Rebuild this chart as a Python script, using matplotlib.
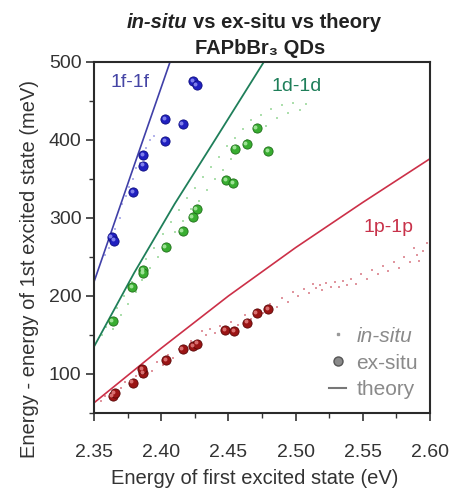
import matplotlib
matplotlib.use("Agg")
import matplotlib.pyplot as plt
from matplotlib.lines import Line2D
from matplotlib.transforms import offset_copy

plt.rcParams['font.family'] = ['Liberation Sans', 'DejaVu Sans']

# theory curves (eV, meV)
th_f_e = [2.35, 2.38, 2.41]
th_f = [218, 368, 517]
th_d_e = [2.35, 2.38, 2.41, 2.44, 2.48]
th_d = [135, 230, 318, 400, 510]
th_p_e = [2.35, 2.40, 2.45, 2.50, 2.55, 2.60]
th_p = [63, 133, 200, 262, 320, 376]

# ex-situ QDs
ex_f_e = [2.4239, 2.4264, 2.4028, 2.4160, 2.4028, 2.3867, 2.3867, 2.3793, 2.3632, 2.3651]
ex_f = [475, 470, 427, 420, 399, 381, 367, 333, 275, 271]
ex_d_e = [2.4711, 2.4636, 2.4549, 2.4797, 2.4482, 2.4537, 2.4264, 2.4234, 2.4160,
          2.4033, 2.3867, 2.3867, 2.3785, 2.3639]
ex_d = [415, 395, 389, 386, 349, 345, 311, 301, 283, 263, 233, 229, 211, 168]
ex_p_e = [2.3639, 2.3653, 2.3788, 2.3867, 2.3860, 2.4036, 2.4160, 2.4239, 2.4269,
          2.4475, 2.4542, 2.4641, 2.4711, 2.4797]
ex_p = [72, 75, 89, 101, 106, 118, 132, 136, 139, 156, 155, 166, 178, 183]

# in-situ growth traces
in_f_e = [2.358, 2.361, 2.364, 2.366, 2.369, 2.371, 2.374, 2.376, 2.379, 2.381,
          2.384, 2.386, 2.389, 2.392, 2.395]
in_f = [252, 262, 280, 286, 300, 318, 328, 340, 350, 364, 370, 384, 390, 400, 405]
in_d_e = [2.356, 2.359, 2.362, 2.364, 2.367, 2.370, 2.372, 2.375, 2.378, 2.381,
          2.384, 2.386, 2.389, 2.392, 2.395, 2.398, 2.401, 2.404, 2.407, 2.410,
          2.413, 2.416, 2.419, 2.422, 2.425, 2.428, 2.431, 2.434, 2.437, 2.440,
          2.443, 2.446, 2.449, 2.452, 2.455, 2.458, 2.461, 2.464, 2.467, 2.470,
          2.474, 2.478, 2.482, 2.486, 2.490, 2.494, 2.498, 2.503, 2.508]
in_d = [150, 160, 172, 158, 185, 176, 200, 190, 218, 205,
        232, 220, 248, 236, 262, 250, 280, 266, 295, 282,
        310, 296, 325, 312, 338, 322, 352, 336, 366, 350,
        378, 362, 392, 376, 402, 390, 414, 400, 425, 410,
        432, 418, 440, 428, 445, 434, 448, 438, 446]
in_p_e = [2.355, 2.358, 2.362, 2.366, 2.370, 2.373, 2.377, 2.381, 2.385, 2.389,
          2.393, 2.397, 2.401, 2.405, 2.409, 2.413, 2.418, 2.422, 2.426, 2.430,
          2.433, 2.436, 2.440, 2.444, 2.448, 2.452, 2.457, 2.462, 2.467, 2.472,
          2.476, 2.481, 2.486, 2.490, 2.494, 2.498, 2.502, 2.506, 2.510, 2.513,
          2.515, 2.518, 2.520, 2.523, 2.526, 2.529, 2.532, 2.535, 2.538, 2.541,
          2.545, 2.549, 2.553, 2.557, 2.561, 2.565, 2.569, 2.573, 2.577, 2.581,
          2.585, 2.588, 2.590, 2.592, 2.595, 2.598]
in_p = [66, 72, 70, 80, 82, 90, 88, 98, 96, 108,
        104, 116, 112, 124, 120, 132, 128, 142, 138, 155,
        150, 158, 152, 162, 158, 167, 163, 175, 170, 182,
        178, 190, 186, 198, 192, 205, 200, 209, 204, 216,
        210, 214, 208, 217, 212, 218, 211, 219, 214, 222,
        216, 228, 222, 233, 228, 238, 232, 243, 236, 250,
        243, 262, 252, 245, 258, 268]

fig = plt.figure(figsize=(4.51, 4.92), dpi=100)
ax = fig.add_axes([0.2084, 0.1606, 0.745, 0.7134])

# in-situ: faint specks
ax.scatter(in_f_e, in_f, s=3.5, marker='s', color='#6a6ad8', alpha=0.5, lw=0)
ax.scatter(in_d_e, in_d, s=3.5, marker='s', color='#5cc05c', alpha=0.5, lw=0)
ax.scatter(in_p_e, in_p, s=3.5, marker='s', color='#c84050', alpha=0.55, lw=0)

# theory
ax.plot(th_f_e, th_f, color='#4040a8', lw=1.2)
ax.plot(th_d_e, th_d, color='#1f7f5a', lw=1.3)
ax.plot(th_p_e, th_p, color='#cc3048', lw=1.2)

# ex-situ: shaded spheres
hl = offset_copy(ax.transData, fig=fig, x=-0.9, y=0.9, units='points')
for e, v, c, ec, hc in [(ex_f_e, ex_f, '#2020c0', '#0c0c80', '#8a8af0'),
                        (ex_d_e, ex_d, '#38ad30', '#1d6e18', '#a8e8a0'),
                        (ex_p_e, ex_p, '#9a1414', '#5a0606', '#e07a7a')]:
    ax.scatter(e, v, s=44, color=c, edgecolors=ec, linewidths=0.6, zorder=3)
    ax.scatter(e, v, s=8, color=hc, lw=0, alpha=0.9, zorder=4, transform=hl)

ax.text(2.3768, 474, '1f-1f', color='#4545a5', fontsize=14, ha='center', va='center')
ax.text(2.501, 468, '1d-1d', color='#1f7f5a', fontsize=14, ha='center', va='center')
ax.text(2.5695, 288, '1p-1p', color='#c8324a', fontsize=14, ha='center', va='center')

ax.set_xlim(2.35, 2.60)
ax.set_ylim(50, 500)
ax.set_xticks([2.35, 2.40, 2.45, 2.50, 2.55, 2.60])
ax.set_xticks([2.375, 2.425, 2.475, 2.525, 2.575], minor=True)
ax.set_yticks([100, 200, 300, 400, 500])
ax.set_yticks([50, 150, 250, 350, 450], minor=True)
ax.set_xticklabels(['2.35', '2.40', '2.45', '2.50', '2.55', '2.60'])
ax.tick_params(which='major', direction='out', length=6, width=1.2,
               labelsize=14, labelcolor='#333333', color='#333333')
ax.tick_params(axis='x', which='major', pad=16)
ax.tick_params(axis='y', which='major', pad=3)
ax.tick_params(which='minor', direction='out', length=3.5, width=1.0, color='#333333')
for sp in ax.spines.values():
    sp.set_linewidth(1.5)
    sp.set_color('#2a2a2a')

ax.set_xlabel('Energy of first excited state (eV)', fontsize=14.5, color='#333333')
ax.set_ylabel('Energy - energy of 1st excited state (meV)', fontsize=14.5, color='#333333')
ax.xaxis.set_label_coords(0.478, -0.16)
ax.yaxis.set_label_coords(-0.165, 0.41)

handles = [Line2D([], [], marker='s', ms=1.8, ls='none', color='#999999'),
           Line2D([], [], marker='o', ms=6.5, ls='none', color='#8a8a8a', mec='#555555'),
           Line2D([], [], color='#777777', lw=1.5)]
leg = ax.legend(handles, ['in-situ', 'ex-situ', 'theory'], loc='lower right',
                bbox_to_anchor=(1.02, -0.015), frameon=False, fontsize=15,
                handlelength=0.8, handletextpad=0.5, labelspacing=0.38,
                labelcolor='#8a8a8a')
leg.get_texts()[0].set_style('italic')

# two-line title, first words italic
t1 = fig.text(0.2816, 0.955, 'in-situ', fontsize=14.5, weight='bold', style='italic',
              color='#222222', ha='left', va='center')
ax.annotate('vs ex-situ vs theory', xy=(1, 0), xycoords=t1, xytext=(4, 0),
            textcoords='offset points', ha='left', va='bottom',
            fontsize=14.5, weight='bold', color='#222222')
fig.text(0.577, 0.902, 'FAPbBr\u2083 QDs', fontsize=14.5, weight='bold', color='#222222',
         ha='center', va='center')

fig.savefig('out.png', dpi=100)
